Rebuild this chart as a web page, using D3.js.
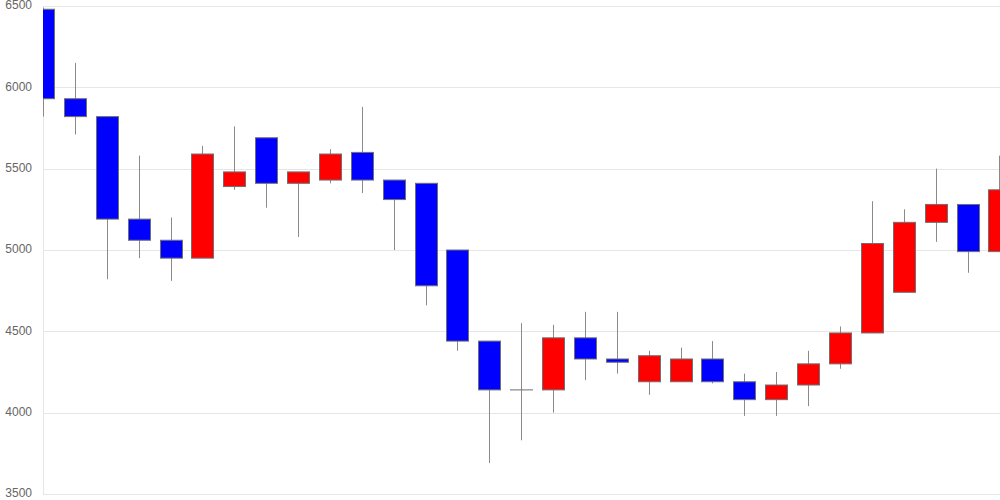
<!DOCTYPE html>
<html>
<head>
<meta charset="utf-8">
<script src="https://cdn.jsdelivr.net/npm/d3@7"></script>
<style>
  html, body { margin: 0; padding: 0; background: #fff; }
  svg { display: block; }
</style>
</head>
<body>
<svg id="chart" width="1000" height="500"></svg>
<script>
const categories = Array.from({length: 31}, (_, i) => "D" + (i + 1));
const opens  = [6480,5930,5820,5190,5060,4950,5390,5690,5410,5430,5600,5430,5410,5000,4440,4140,4140,4460,4330,4190,4190,4330,4190,4080,4170,4300,4490,4740,5170,5280,4990];
const highs  = [6490,6150,5820,5580,5200,5640,5760,5690,5480,5620,5880,5430,5410,5000,4440,4550,4540,4620,4620,4380,4400,4440,4240,4250,4380,4530,5300,5250,5500,5280,5580];
const lows   = [5820,5710,4820,4950,4810,4950,5370,5260,5080,5410,5350,5000,4660,4380,3690,3830,4000,4200,4240,4110,4190,4180,3980,3980,4040,4270,4490,4740,5050,4860,4990];
const closes = [5930,5820,5190,5060,4950,5590,5480,5410,5480,5590,5430,5310,4780,4440,4140,4140,4460,4330,4310,4350,4330,4190,4080,4170,4300,4490,5040,5170,5280,4990,5370];
const yTicks = [3500,4000,4500,5000,5500,6000,6500];

const data = categories.map((c, i) => ({c, o: opens[i], h: highs[i], l: lows[i], cl: closes[i]}));

const svg = d3.select("#chart");
const W = 1000, H = 500;
const left = 43;

const x = d3.scalePoint().domain(categories).range([left, 999.4]);
const y = d3.scaleLinear().domain([3500, 6500]).range([494, 6]);

// grid
const grid = svg.append("g");
grid.selectAll("line.h").data(yTicks).join("line")
  .attr("x1", left).attr("x2", W)
  .attr("y1", d => Math.round(y(d)) + 0.5).attr("y2", d => Math.round(y(d)) + 0.5)
  .attr("stroke", "#e6e6e6").attr("stroke-width", 1);
grid.append("line")
  .attr("x1", left + 0.5).attr("x2", left + 0.5)
  .attr("y1", y(6500)).attr("y2", y(3500))
  .attr("stroke", "#e6e6e6");

// y labels
svg.append("g").selectAll("text").data(yTicks).join("text")
  .attr("x", 32).attr("y", d => y(d))
  .attr("text-anchor", "end").attr("dominant-baseline", "middle")
  .attr("font-family", "Liberation Sans, Arial, sans-serif")
  .attr("font-size", 12).attr("fill", "#666")
  .text(d => d);

svg.append("clipPath").attr("id", "plot")
  .append("rect").attr("x", left).attr("y", 0).attr("width", W - left).attr("height", H);

const g = svg.append("g").attr("clip-path", "url(#plot)");
const bw = 22;

g.selectAll("line.wick").data(data).join("line")
  .attr("class", "wick")
  .attr("x1", d => Math.round(x(d.c)) + 0.5).attr("x2", d => Math.round(x(d.c)) + 0.5)
  .attr("y1", d => y(d.h)).attr("y2", d => y(d.l))
  .attr("stroke", "#8a8a8a").attr("stroke-width", 1);

g.selectAll("rect.body").data(data).join("rect")
  .attr("class", "body")
  .attr("x", d => Math.round(x(d.c)) - bw / 2 + 0.5)
  .attr("width", bw)
  .attr("y", d => y(Math.max(d.o, d.cl)))
  .attr("height", d => Math.max(0.01, Math.abs(y(d.o) - y(d.cl))))
  .attr("fill", d => d.cl > d.o ? "#ff0000" : "#0000ff")
  .attr("stroke", "#707070").attr("stroke-width", 1);
</script>
</body>
</html>
